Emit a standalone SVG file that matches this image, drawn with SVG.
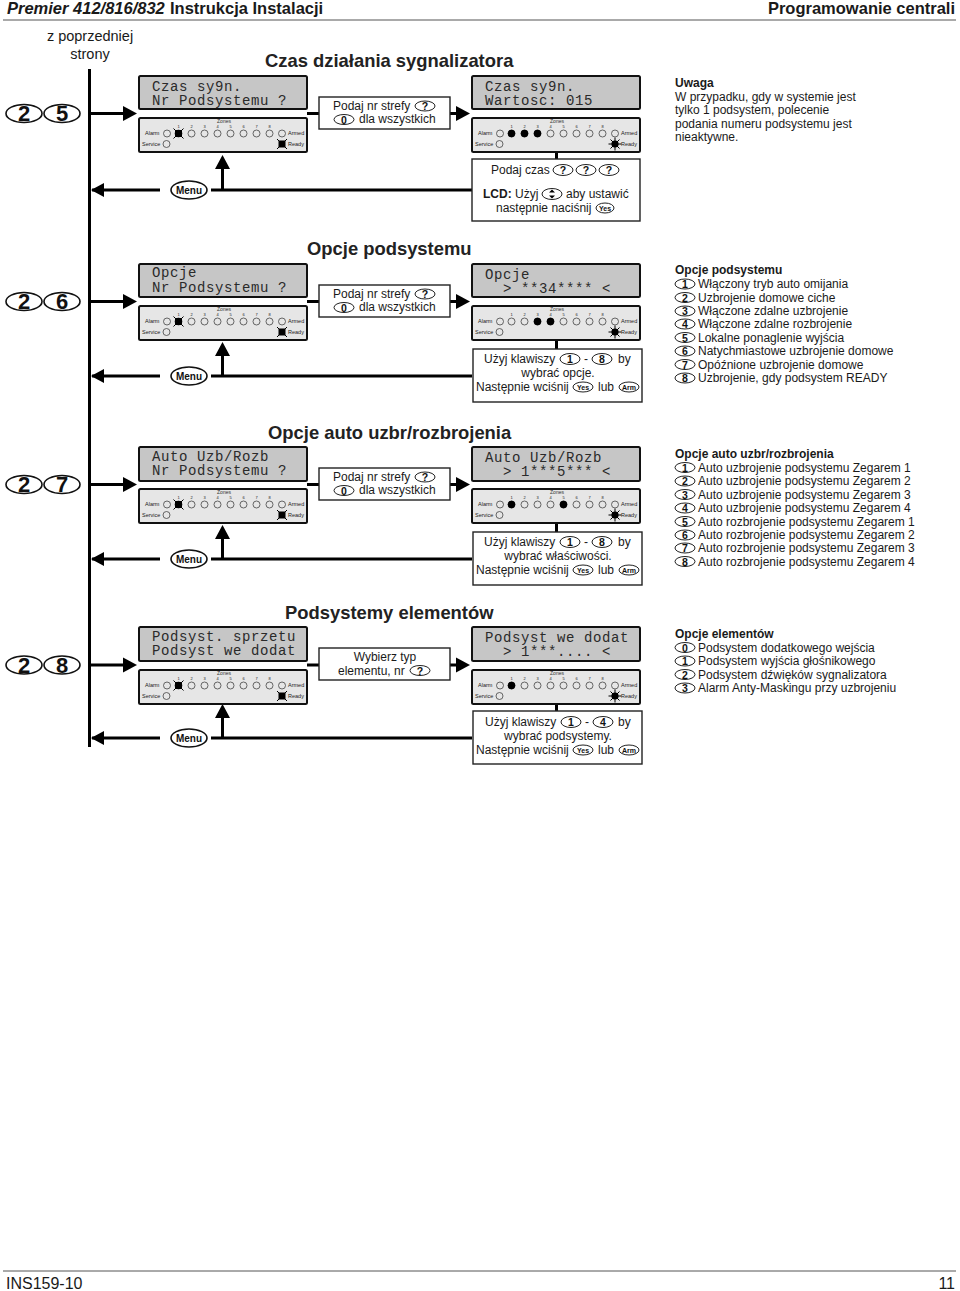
<svg xmlns="http://www.w3.org/2000/svg" width="960" height="1291" viewBox="0 0 960 1291">
<style>
text{font-family:"Liberation Sans",Arial,sans-serif;fill:#1a1a1a}
.t12{font-size:12px}
.m{text-anchor:middle}
.b{font-weight:bold}
.sec{font-size:18.4px;font-weight:bold;fill:#222}
.side{font-size:14.5px}
.lcd{fill:#c6c6c6;stroke:#111;stroke-width:2}
.pan{fill:#e6e6e6;stroke:#111;stroke-width:2}
.lt{font-family:"Liberation Mono","DejaVu Sans Mono",monospace;font-size:14px;letter-spacing:.6px;fill:#2a2a2a;white-space:pre}
.sm{font-size:5.5px;fill:#333}
.led{fill:none;stroke:#444;stroke-width:.8}
.box{fill:#fff;stroke:#222;stroke-width:1.4}
.k{fill:#fff;stroke:#222;stroke-width:1}
.kt{font-size:10.5px;font-weight:bold;text-anchor:middle;fill:#111}
.mt{font-size:10px;font-weight:bold;text-anchor:middle;fill:#111}
.ks{font-size:7px;font-weight:bold;text-anchor:middle;fill:#111}
.big{font-size:22px;text-anchor:middle;fill:#111;font-weight:bold}
.bk{fill:#fff;stroke:#111;stroke-width:1.6}
.ln{fill:none;stroke:#000;stroke-width:3}
.ar{fill:#000}
.rule{stroke:#555;stroke-width:1}
</style>
<defs>
<g id="panel">
<rect class="pan" x="0" y="0" width="168" height="34" rx="1.5"/>
<text class="sm m" x="85" y="5" style="font-size:5px">Zones</text>
<g class="sm">
<text x="6" y="17">Alarm</text><text x="3" y="28">Service</text><text x="149" y="17">Armed</text><text x="149" y="28">Ready</text>
</g>
<g class="sm m" style="font-size:4px">
<text x="39.5" y="9.5">1</text><text x="52.5" y="9.5">2</text><text x="65.5" y="9.5">3</text><text x="78.5" y="9.5">4</text><text x="91.5" y="9.5">5</text><text x="104.5" y="9.5">6</text><text x="117.5" y="9.5">7</text><text x="130.5" y="9.5">8</text>
</g>
<g class="led">
<circle cx="28" cy="15.5" r="3.5"/><circle cx="27.5" cy="26" r="3.5"/><circle cx="143" cy="15.5" r="3.5"/>
<circle cx="39.5" cy="15.5" r="3.5"/><circle cx="52.5" cy="15.5" r="3.5"/><circle cx="65.5" cy="15.5" r="3.5"/><circle cx="78.5" cy="15.5" r="3.5"/><circle cx="91.5" cy="15.5" r="3.5"/><circle cx="104.5" cy="15.5" r="3.5"/><circle cx="117.5" cy="15.5" r="3.5"/><circle cx="130.5" cy="15.5" r="3.5"/>
</g>
</g>
<g id="blink"><rect x="-3.5" y="-3.5" width="7" height="7" fill="#000"/><path d="M-5-5L5 5M5-5L-5 5" stroke="#000" stroke-width="1"/></g>
<g id="sun"><circle r="3.6" fill="#000"/><path d="M-6.5 0H6.5M0-6.5V6.5M-4.5-4.5L4.5 4.5M4.5-4.5L-4.5 4.5" stroke="#000" stroke-width="1"/></g>
<circle id="lit" r="3.7" fill="#000"/>
<g id="ar-r"><path class="ar" d="M0-7.5L14 0L0 7.5Z"/></g>
<g id="podaj">
<rect class="box" x="0" y="0" width="131" height="32"/>
<text class="t12" x="14" y="13">Podaj nr strefy</text>
<ellipse class="k" cx="106" cy="9" rx="10" ry="5"/><text class="kt" x="106" y="13">?</text>
<ellipse class="k" cx="25" cy="22.5" rx="10" ry="5"/><text class="kt" x="25" y="26.5">0</text>
<text class="t12" x="40" y="26">dla wszystkich</text>
</g>
</defs>

<rect width="960" height="1291" fill="#fff"/>

<g id="header">
<text x="7" y="14" style="font-size:16.5px;font-weight:bold;font-style:italic">Premier 412/816/832</text>
<text x="170" y="14" style="font-size:16.5px;font-weight:bold">Instrukcja Instalacji</text>
<text x="955" y="14" text-anchor="end" style="font-size:16.5px;font-weight:bold">Programowanie centrali</text>
<line class="rule" x1="3" y1="20" x2="956" y2="20"/>
</g>

<g id="connectors">
<path class="ln" d="M89.5 69V747"/>
<path class="ln" d="M90 113.5H124M307 113.5H319M450 113.5H458M556.5 152V159"/>
<path class="ln" d="M160 190H92M211 190H472M222.5 190V168"/>
<path class="ln" d="M90 301.5H124M307 301.5H319M450 301.5H458M556.5 340V349"/>
<path class="ln" d="M160 376H92M211 376H472M222.5 376V355"/>
<path class="ln" d="M90 484.5H124M307 484.5H319M450 484.5H458M556.5 523V532"/>
<path class="ln" d="M160 559H92M211 559H472M222.5 559V538"/>
<path class="ln" d="M90 665H124M307 665H319M450 665H458M556.5 704V711"/>
<path class="ln" d="M160 738H92M211 738H472M222.5 738V717"/>
<use href="#ar-r" x="123" y="113.5"/><use href="#ar-r" x="456" y="113.5"/>
<use href="#ar-r" x="123" y="301.5"/><use href="#ar-r" x="456" y="301.5"/>
<use href="#ar-r" x="123" y="484.5"/><use href="#ar-r" x="456" y="484.5"/>
<use href="#ar-r" x="123" y="665"/><use href="#ar-r" x="456" y="665"/>
<path class="ar" d="M91 190L104 183V197ZM215 169L222.5 155L230 169Z"/>
<path class="ar" d="M91 376L104 369V383ZM215 356L222.5 342L230 356Z"/>
<path class="ar" d="M91 559L104 552V566ZM215 539L222.5 525L230 539Z"/>
<path class="ar" d="M91 738L104 731V745ZM215 718L222.5 704L230 718Z"/>
</g>

<g id="from-prev">
<text class="side m" x="90" y="41">z poprzedniej</text>
<text class="side m" x="90" y="59">strony</text>
</g>

<g id="code-25"><ellipse class="bk" cx="24" cy="113.5" rx="18" ry="9"/><ellipse class="bk" cx="62" cy="113.5" rx="18" ry="9"/><text class="big" x="24" y="121">2</text><text class="big" x="62" y="121">5</text></g>
<g id="code-26"><ellipse class="bk" cx="24" cy="301.5" rx="18" ry="9"/><ellipse class="bk" cx="62" cy="301.5" rx="18" ry="9"/><text class="big" x="24" y="309">2</text><text class="big" x="62" y="309">6</text></g>
<g id="code-27"><ellipse class="bk" cx="24" cy="484.5" rx="18" ry="9"/><ellipse class="bk" cx="62" cy="484.5" rx="18" ry="9"/><text class="big" x="24" y="492">2</text><text class="big" x="62" y="492">7</text></g>
<g id="code-28"><ellipse class="bk" cx="24" cy="665" rx="18" ry="9"/><ellipse class="bk" cx="62" cy="665" rx="18" ry="9"/><text class="big" x="24" y="672.5">2</text><text class="big" x="62" y="672.5">8</text></g>

<g id="menu-1"><ellipse class="bk" cx="189" cy="190" rx="18" ry="9"/><text class="mt" x="189" y="194">Menu</text></g>
<g id="menu-2"><ellipse class="bk" cx="189" cy="376" rx="18" ry="9"/><text class="mt" x="189" y="380">Menu</text></g>
<g id="menu-3"><ellipse class="bk" cx="189" cy="559" rx="18" ry="9"/><text class="mt" x="189" y="563">Menu</text></g>
<g id="menu-4"><ellipse class="bk" cx="189" cy="738" rx="18" ry="9"/><text class="mt" x="189" y="742">Menu</text></g>

<g id="titles">
<text class="sec" x="265" y="67">Czas działania sygnalizatora</text>
<text class="sec" x="307" y="255">Opcje podsystemu</text>
<text class="sec" x="268" y="439">Opcje auto uzbr/rozbrojenia</text>
<text class="sec" x="285" y="619">Podsystemy elementów</text>
</g>

<g id="kp-25a">
<rect class="lcd" x="139" y="76" width="168" height="33" rx="1.5"/>
<text class="lt" x="152" y="91">Czas sy9n.</text><text class="lt" x="152" y="105">Nr Podsystemu ?</text>
<use href="#panel" x="139" y="118"/><use href="#blink" x="178.5" y="133.5"/><use href="#blink" x="282" y="144"/>
</g>
<g id="box-25a"><use href="#podaj" x="319" y="97"/></g>
<g id="kp-25b">
<rect class="lcd" x="472" y="76" width="168" height="33" rx="1.5"/>
<text class="lt" x="485" y="91">Czas sy9n.</text><text class="lt" x="485" y="105">Wartosc: 015</text>
<use href="#panel" x="472" y="118"/><use href="#lit" x="511.5" y="133.5"/><use href="#lit" x="524.5" y="133.5"/><use href="#lit" x="537.5" y="133.5"/><use href="#sun" x="615" y="144"/>
</g>
<g id="box-25b">
<rect class="box" x="472" y="159" width="168" height="62"/>
<text class="t12" x="491" y="174">Podaj czas</text>
<ellipse class="k" cx="563" cy="170" rx="10" ry="5.5"/><text class="kt" x="563" y="174">?</text>
<ellipse class="k" cx="586" cy="170" rx="10" ry="5.5"/><text class="kt" x="586" y="174">?</text>
<ellipse class="k" cx="609" cy="170" rx="10" ry="5.5"/><text class="kt" x="609" y="174">?</text>
<text class="t12" x="483" y="198"><tspan class="b">LCD:</tspan> Użyj</text>
<ellipse class="k" cx="552" cy="194" rx="10" ry="5.5"/><path class="ar" d="M552 189.5l3 3h-6zM552 198.5l3-3h-6z"/>
<text class="t12" x="566" y="198">aby ustawić</text>
<text class="t12" x="496" y="212">następnie naciśnij</text>
<ellipse class="k" cx="605" cy="208" rx="9" ry="5"/><text class="ks" x="605" y="210.5">Yes</text>
</g>
<g id="note-25">
<text class="t12 b" x="675" y="87">Uwaga</text>
<text class="t12" x="675" y="101">W przypadku, gdy w systemie jest</text>
<text class="t12" x="675" y="114">tylko 1 podsystem, polecenie</text>
<text class="t12" x="675" y="128">podania numeru podsystemu jest</text>
<text class="t12" x="675" y="141">nieaktywne.</text>
</g>

<g id="kp-26a">
<rect class="lcd" x="139" y="264" width="168" height="33" rx="1.5"/>
<text class="lt" x="152" y="277">Opcje</text><text class="lt" x="152" y="292">Nr Podsystemu ?</text>
<use href="#panel" x="139" y="306"/><use href="#blink" x="178.5" y="321.5"/><use href="#blink" x="282" y="332"/>
</g>
<g id="box-26a"><use href="#podaj" x="319" y="285"/></g>
<g id="kp-26b">
<rect class="lcd" x="472" y="264" width="168" height="33" rx="1.5"/>
<text class="lt" x="485" y="279">Opcje</text><text class="lt" x="485" y="293" xml:space="preserve">  &gt; **34**** &lt;</text>
<use href="#panel" x="472" y="306"/><use href="#lit" x="537.5" y="321.5"/><use href="#lit" x="550.5" y="321.5"/><use href="#sun" x="615" y="332"/>
</g>
<g id="box-26b">
<rect class="box" x="473" y="349" width="169" height="53"/>
<text class="t12" x="484" y="363">Użyj klawiszy</text>
<ellipse class="k" cx="570" cy="359" rx="10" ry="5.5"/><text class="kt" x="570" y="363">1</text>
<text class="t12" x="584" y="363">-</text>
<ellipse class="k" cx="602" cy="359" rx="10" ry="5.5"/><text class="kt" x="602" y="363">8</text>
<text class="t12" x="618" y="363">by</text>
<text class="t12 m" x="558" y="377">wybrać opcje.</text>
<text class="t12" x="476" y="391">Następnie wciśnij</text>
<ellipse class="k" cx="583" cy="387" rx="10" ry="5"/><text class="ks" x="583" y="389.5">Yes</text>
<text class="t12" x="598" y="391">lub</text>
<ellipse class="k" cx="629" cy="387" rx="10" ry="5"/><text class="ks" x="629" y="389.5">Arm</text>
</g>
<g id="list-26">
<text class="t12 b" x="675" y="274">Opcje podsystemu</text>
<g><ellipse class="k" cx="685" cy="284" rx="10" ry="5"/><text class="kt" x="685" y="288">1</text><text class="t12" x="698" y="288">Włączony tryb auto omijania</text></g>
<g><ellipse class="k" cx="685" cy="297.5" rx="10" ry="5"/><text class="kt" x="685" y="301.5">2</text><text class="t12" x="698" y="301.5">Uzbrojenie domowe ciche</text></g>
<g><ellipse class="k" cx="685" cy="311" rx="10" ry="5"/><text class="kt" x="685" y="315">3</text><text class="t12" x="698" y="315">Włączone zdalne uzbrojenie</text></g>
<g><ellipse class="k" cx="685" cy="324" rx="10" ry="5"/><text class="kt" x="685" y="328">4</text><text class="t12" x="698" y="328">Włączone zdalne rozbrojenie</text></g>
<g><ellipse class="k" cx="685" cy="337.5" rx="10" ry="5"/><text class="kt" x="685" y="341.5">5</text><text class="t12" x="698" y="341.5">Lokalne ponaglenie wyjścia</text></g>
<g><ellipse class="k" cx="685" cy="351" rx="10" ry="5"/><text class="kt" x="685" y="355">6</text><text class="t12" x="698" y="355">Natychmiastowe uzbrojenie domowe</text></g>
<g><ellipse class="k" cx="685" cy="364.5" rx="10" ry="5"/><text class="kt" x="685" y="368.5">7</text><text class="t12" x="698" y="368.5">Opóźnione uzbrojenie domowe</text></g>
<g><ellipse class="k" cx="685" cy="378" rx="10" ry="5"/><text class="kt" x="685" y="382">8</text><text class="t12" x="698" y="382">Uzbrojenie, gdy podsystem READY</text></g>
</g>

<g id="kp-27a">
<rect class="lcd" x="139" y="447" width="168" height="34" rx="1.5"/>
<text class="lt" x="152" y="461">Auto Uzb/Rozb</text><text class="lt" x="152" y="475">Nr Podsystemu ?</text>
<use href="#panel" x="139" y="489"/><use href="#blink" x="178.5" y="504.5"/><use href="#blink" x="282" y="515"/>
</g>
<g id="box-27a"><use href="#podaj" x="319" y="468"/></g>
<g id="kp-27b">
<rect class="lcd" x="472" y="447" width="168" height="34" rx="1.5"/>
<text class="lt" x="485" y="462">Auto Uzb/Rozb</text><text class="lt" x="485" y="476" xml:space="preserve">  &gt; 1***5*** &lt;</text>
<use href="#panel" x="472" y="489"/><use href="#lit" x="511.5" y="504.5"/><use href="#lit" x="563.5" y="504.5"/><use href="#sun" x="615" y="515"/>
</g>
<g id="box-27b">
<rect class="box" x="473" y="532" width="169" height="53"/>
<text class="t12" x="484" y="546">Użyj klawiszy</text>
<ellipse class="k" cx="570" cy="542" rx="10" ry="5.5"/><text class="kt" x="570" y="546">1</text>
<text class="t12" x="584" y="546">-</text>
<ellipse class="k" cx="602" cy="542" rx="10" ry="5.5"/><text class="kt" x="602" y="546">8</text>
<text class="t12" x="618" y="546">by</text>
<text class="t12 m" x="558" y="560">wybrać właściwości.</text>
<text class="t12" x="476" y="574">Następnie wciśnij</text>
<ellipse class="k" cx="583" cy="570" rx="10" ry="5"/><text class="ks" x="583" y="572.5">Yes</text>
<text class="t12" x="598" y="574">lub</text>
<ellipse class="k" cx="629" cy="570" rx="10" ry="5"/><text class="ks" x="629" y="572.5">Arm</text>
</g>
<g id="list-27">
<text class="t12 b" x="675" y="458">Opcje auto uzbr/rozbrojenia</text>
<g><ellipse class="k" cx="685" cy="467.5" rx="10" ry="5"/><text class="kt" x="685" y="471.5">1</text><text class="t12" x="698" y="471.5">Auto uzbrojenie podsystemu Zegarem 1</text></g>
<g><ellipse class="k" cx="685" cy="481" rx="10" ry="5"/><text class="kt" x="685" y="485">2</text><text class="t12" x="698" y="485">Auto uzbrojenie podsystemu Zegarem 2</text></g>
<g><ellipse class="k" cx="685" cy="494.5" rx="10" ry="5"/><text class="kt" x="685" y="498.5">3</text><text class="t12" x="698" y="498.5">Auto uzbrojenie podsystemu Zegarem 3</text></g>
<g><ellipse class="k" cx="685" cy="508" rx="10" ry="5"/><text class="kt" x="685" y="512">4</text><text class="t12" x="698" y="512">Auto uzbrojenie podsystemu Zegarem 4</text></g>
<g><ellipse class="k" cx="685" cy="521.5" rx="10" ry="5"/><text class="kt" x="685" y="525.5">5</text><text class="t12" x="698" y="525.5">Auto rozbrojenie podsystemu Zegarem 1</text></g>
<g><ellipse class="k" cx="685" cy="535" rx="10" ry="5"/><text class="kt" x="685" y="539">6</text><text class="t12" x="698" y="539">Auto rozbrojenie podsystemu Zegarem 2</text></g>
<g><ellipse class="k" cx="685" cy="548" rx="10" ry="5"/><text class="kt" x="685" y="552">7</text><text class="t12" x="698" y="552">Auto rozbrojenie podsystemu Zegarem 3</text></g>
<g><ellipse class="k" cx="685" cy="561.5" rx="10" ry="5"/><text class="kt" x="685" y="565.5">8</text><text class="t12" x="698" y="565.5">Auto rozbrojenie podsystemu Zegarem 4</text></g>
</g>

<g id="kp-28a">
<rect class="lcd" x="139" y="627" width="168" height="34" rx="1.5"/>
<text class="lt" x="152" y="641">Podsyst. sprzetu</text><text class="lt" x="152" y="655">Podsyst we dodat</text>
<use href="#panel" x="139" y="670"/><use href="#blink" x="178.5" y="685.5"/><use href="#blink" x="282" y="696"/>
</g>
<g id="box-28a">
<rect class="box" x="319" y="648" width="131" height="32"/>
<text class="t12 m" x="385" y="661">Wybierz typ</text>
<text class="t12" x="338" y="675">elementu, nr</text>
<ellipse class="k" cx="420" cy="670.5" rx="10" ry="5"/><text class="kt" x="420" y="674.5">?</text>
</g>
<g id="kp-28b">
<rect class="lcd" x="472" y="627" width="168" height="34" rx="1.5"/>
<text class="lt" x="485" y="642">Podsyst we dodat</text><text class="lt" x="485" y="656" xml:space="preserve">  &gt; 1***.... &lt;</text>
<use href="#panel" x="472" y="670"/><use href="#lit" x="511.5" y="685.5"/><use href="#sun" x="615" y="696"/>
</g>
<g id="box-28b">
<rect class="box" x="473" y="711" width="169" height="53"/>
<text class="t12" x="485" y="726">Użyj klawiszy</text>
<ellipse class="k" cx="571" cy="722" rx="10" ry="5.5"/><text class="kt" x="571" y="726">1</text>
<text class="t12" x="585" y="726">-</text>
<ellipse class="k" cx="603" cy="722" rx="10" ry="5.5"/><text class="kt" x="603" y="726">4</text>
<text class="t12" x="618" y="726">by</text>
<text class="t12 m" x="558" y="740">wybrać podsystemy.</text>
<text class="t12" x="476" y="754">Następnie wciśnij</text>
<ellipse class="k" cx="583" cy="750" rx="10" ry="5"/><text class="ks" x="583" y="752.5">Yes</text>
<text class="t12" x="598" y="754">lub</text>
<ellipse class="k" cx="629" cy="750" rx="10" ry="5"/><text class="ks" x="629" y="752.5">Arm</text>
</g>
<g id="list-28">
<text class="t12 b" x="675" y="638">Opcje elementów</text>
<g><ellipse class="k" cx="685" cy="647.5" rx="10" ry="5"/><text class="kt" x="685" y="651.5">0</text><text class="t12" x="698" y="651.5">Podsystem dodatkowego wejścia</text></g>
<g><ellipse class="k" cx="685" cy="661" rx="10" ry="5"/><text class="kt" x="685" y="665">1</text><text class="t12" x="698" y="665">Podsystem wyjścia głośnikowego</text></g>
<g><ellipse class="k" cx="685" cy="674.5" rx="10" ry="5"/><text class="kt" x="685" y="678.5">2</text><text class="t12" x="698" y="678.5">Podsystem dźwięków sygnalizatora</text></g>
<g><ellipse class="k" cx="685" cy="688" rx="10" ry="5"/><text class="kt" x="685" y="692">3</text><text class="t12" x="698" y="692">Alarm Anty-Maskingu przy uzbrojeniu</text></g>
</g>

<g id="footer">
<line class="rule" x1="3" y1="1271" x2="956" y2="1271"/>
<text x="6" y="1289" style="font-size:16px">INS159-10</text>
<text x="955" y="1289" text-anchor="end" style="font-size:16px">11</text>
</g>
</svg>
